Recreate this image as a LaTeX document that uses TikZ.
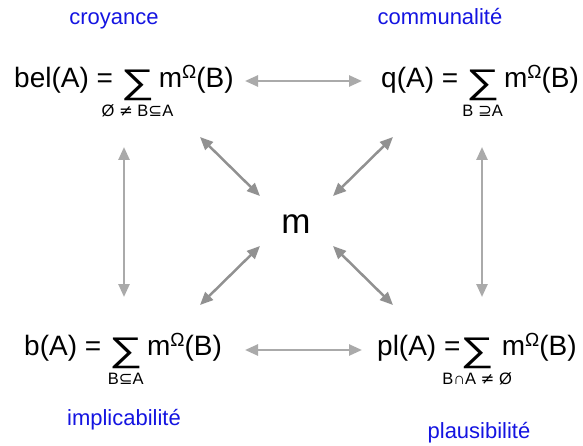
\documentclass[tikz,border=0pt]{standalone}
\usepackage{fontspec}
\usepackage{graphicx}
\setmainfont{Liberation Sans}
\newfontfamily\djv{DejaVu Sans}
\usetikzlibrary{arrows.meta}
\definecolor{lblblue}{RGB}{20,20,225}
\definecolor{arrgrayA}{RGB}{170,170,170}
\definecolor{arrgrayB}{RGB}{145,145,145}
\newcommand\fsz[1]{\fontsize{#1}{#1}\selectfont}
\newcommand\bigsum[1]{\setbox0\hbox{\raisebox{-6pt}{\scalebox{1.3}[0.95]{\fsz{36}∑}}}\setbox2\hbox{\fsz{16.5}#1}\rlap{\hbox to \wd0{\hss\raisebox{-29pt}[0pt][0pt]{\box2}\hss}}\box0}
\newcommand\omg{\raisebox{9pt}{\fsz{19}Ω}}
\begin{document}
\begin{tikzpicture}[x=1pt,y=-1pt,
  formula/.style={anchor=base west,inner sep=0pt,font=\fsz{28}},
  lbl/.style={text=lblblue,font=\fsz{22},inner sep=0pt,anchor=base},
  arrA/.style={draw=arrgrayA,line width=2.5pt,{Triangle[length=13pt,width=11pt]}-{Triangle[length=13pt,width=11pt]}},
  arrB/.style={draw=arrgrayB,line width=2.5pt,{Triangle[length=13pt,width=11pt]}-{Triangle[length=13pt,width=11pt]}}]
\useasboundingbox (0,0) rectangle (583,446);
% labels
\node[lbl] (lcro) at (114,25) {croyance};
\node[lbl] (lcom) at (440,25) {communalité};
\node[lbl] (limp) at (124,425) {implicabilité};
\node[lbl] (lpla) at (479,438) {plausibilité};
% formulas
\node[formula] (bel) at (14,88) {bel(A) = \bigsum{Ø {\djv ≠} B{\djv ⊆}A}\,m\omg(B)};
\node[formula] (q) at (381,88) {q(A) = \bigsum{B {\djv ⊇}A}\,m\omg(B)};
\node[formula] (b) at (24,355) {b(A) = \bigsum{B{\djv ⊆}A}\,m\omg(B)};
\node[formula] (pl) at (377,355) {pl(A) =\bigsum{B∩A {\djv ≠} Ø}\hspace{8pt}m\omg(B)};
\node[font=\fsz{35},inner sep=0pt] (m) at (296,224) {m};
% arrow end points
\coordinate (h1a) at (245,81);  \coordinate (h1b) at (362,81);
\coordinate (h2a) at (245,350); \coordinate (h2b) at (362,350);
\coordinate (v1a) at (124,147); \coordinate (v1b) at (124,297);
\coordinate (v2a) at (482,147); \coordinate (v2b) at (482,297);
\coordinate (d1a) at (200,137); \coordinate (d1b) at (260,196);
\coordinate (d2a) at (393,137); \coordinate (d2b) at (333,196);
\coordinate (d3a) at (200,305); \coordinate (d3b) at (260,246);
\coordinate (d4a) at (393,305); \coordinate (d4b) at (333,246);
% arrows
\draw[arrA] (h1a) -- (h1b);
\draw[arrA] (h2a) -- (h2b);
\draw[arrA] (v1a) -- (v1b);
\draw[arrA] (v2a) -- (v2b);
\draw[arrB] (d1a) -- (d1b);
\draw[arrB] (d2a) -- (d2b);
\draw[arrB] (d3a) -- (d3b);
\draw[arrB] (d4a) -- (d4b);
\end{tikzpicture}
\end{document}
